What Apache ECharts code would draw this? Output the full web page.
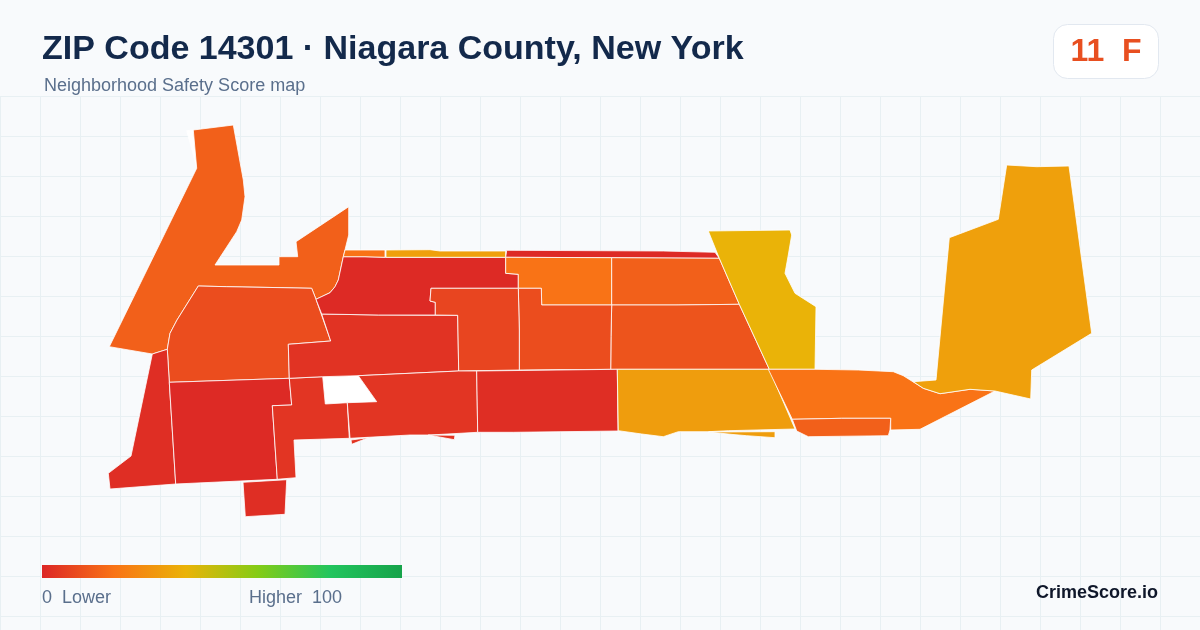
<!DOCTYPE html>
<html lang="en">
<head>
  <meta charset="UTF-8">
  <title>ZIP Code 14301</title>
  <script src="https://cdn.jsdelivr.net/npm/echarts@6/dist/echarts.min.js"></script>
  <style>
    html, body { margin: 0; padding: 0; background: #f8fafc; }
    #main { width: 1200px; height: 630px; }
  </style>
</head>
<body>
<div id="main"></div>
<script>
  // block groups: name, score, outline in map units
  var areaNames = ['NW','Hyde','West','LaSalle','Center','Court','South','North','TopA','TopB','TopC','Mid1','Mid2','Mid3','Mid4','Mid5','Row1','Row2','Row3','Gold','River','Shore','East'];
  var areaScores = [15, 10, 2, 1, 4, 2, 3.5, 1, 20, 34, 1, 20, 15, 12, 10, 8, 4, 2, 33, 40, 20, 15, 34];
  var blankAreas = {
    Hole: [[[322.7,376.7],[358.3,375.7],[376.7,401.7],[347.3,402.7],[325.3,404]]],
    Sliver: [[[186.7,130.7],[193.3,130],[197,168.3]]]
  };
  var areaShapes = [
    [[[193.3,130],[233.3,125],[243.3,180],[245,196.7],[241.7,220],[236.7,231.7],[215,265],[279,265],[279,256.7],[297.7,256.7],[296,241.7],[348.7,206.7],[348.7,235],[343.3,256.7],[338.3,280],[335,286.7],[330,292.7],[316,299.3],[311.7,288.3],[283,287.7],[226.7,286.7],[198.3,286],[177,320],[170,333.3],[167.3,349.3],[152.3,354],[109.3,346.7],[196.7,168.3]]],
    [[[198.3,286],[226.7,286.7],[283,287.7],[311.7,288.3],[316,299.3],[330.7,341],[288.3,344.3],[289.3,378.3],[169.3,382.3],[167.3,349.3],[170,333.3],[177,320]]],
    [[[152.3,354],[167.3,349.3],[169.3,382.3],[175.7,484],[110,489],[108.3,473.3],[131,456]]],
    [[[169.3,382.3],[289.3,378.3],[291.7,405],[272.3,405.7],[277.3,479.3],[175.7,484]]],
    [[[289.3,378.3],[322.7,376.7],[325.3,404],[347.3,402.7],[349.3,438.3],[294,440],[296,477.7],[277.3,479.3],[272.3,405.7],[291.7,405]]],
    [[[243,482.3],[286.7,479.7],[285,514.3],[245.3,516.7]]],
    [[[321.7,314],[378.3,315],[457.7,315.3],[458.7,371],[358.3,375.7],[322.7,376.7],[289.3,378.3],[288.3,344.3],[330.7,341]]],
    [[[343.3,256.7],[365,256.7],[385,257.3],[505.7,257.3],[505.7,273.3],[518.3,274.3],[518.3,288.3],[431,288.3],[430,301],[435.3,302.3],[435.3,315],[378.3,315],[321.7,314],[316,299.3],[330,292.7],[335,286.7],[338.3,280]]],
    [[[345,250],[385,250],[385,257.3],[365,256.7],[343.3,256.7]]],
    [[[386,250],[430,249.7],[440,251],[505.7,251],[505.7,257.3],[386,257.3]]],
    [[[506.7,250.3],[663.3,251],[715,252.3],[719.3,258.3],[611.7,257.7],[505.7,257.3]]],
    [[[505.7,257.3],[611.7,257.7],[611.7,305],[541.7,305],[541.3,288.3],[518.3,288.3],[518.3,274.3],[505.7,273.3]]],
    [[[611.7,257.7],[719.3,258.3],[739.3,304.3],[676,305],[611.7,305]]],
    [[[611.7,305],[676,305],[739.3,304.3],[769.3,369.3],[610.7,369.3],[611,336.7]]],
    [[[518.3,288.3],[541.3,288.3],[541.7,305],[611.7,305],[611,336.7],[610.7,369.3],[519.3,370],[519.3,330]]],
    [[[431,288.3],[518.3,288.3],[519.3,330],[519.3,370],[458.7,371],[457.7,315.3],[435.3,315],[435.3,302.3],[430,301]]],
    [[[358.3,375.7],[458.7,371],[476.7,371],[477.7,432.3],[430,435],[410,435],[350,438.3],[347.3,402.7],[376.7,401.7]],
     [[351,440],[368.3,437.7],[351.7,444.3]],
     [[428.3,435],[455,435.3],[454.3,439.7]]],
    [[[476.7,371],[617.3,369.3],[618,431],[513.3,432.3],[477.7,432.3]]],
    [[[617.3,369.3],[769.3,369.3],[795,429],[728.3,430.7],[708.3,431.7],[678.3,431.7],[663.3,436.7],[641.7,434],[618.3,430.7]],
     [[708.3,432],[775,431.7],[775,437.7],[746.7,435.7],[733,434.5]]],
    [[[708.3,231],[790,230],[791.7,235],[788.3,255],[785,273.3],[795,293.3],[816,306.7],[815,369.3],[769.3,369.3],[739.3,304.3],[719.3,258.3]]],
    [[[768.3,369.3],[815,369.3],[858.3,370],[893.3,371.7],[903.3,375.7],[923.3,388.3],[940,393.7],[970,389.3],[995,391],[920,429.3],[890.7,430],[890.7,418.3],[841.7,418.3],[792.3,419.3]]],
    [[[792.3,419.3],[841.7,418.3],[890.7,418.3],[890,430],[888.3,435.7],[808.3,436.7],[796.7,431]]],
    [[[1006.7,165],[1036.7,166.7],[1069,166],[1091.7,333.3],[1031.7,370],[1030.7,399],[995,391],[970,389.3],[940,393.7],[923.3,388.3],[913.3,381.7],[936,380],[949.3,237.7],[998.3,219.3]]]
  ];
  var scoreStops = ['#dc2626','#f97316','#eab308','#84cc16','#22c55e','#16a34a'];
  var overallScore = 11;
  var overallGrade = 'F';

  var textFont = '"Liberation Sans", Arial, sans-serif';

  function flipRing(ring) {
    return ring.map(function (p) { return [p[0], 630 - p[1]]; });
  }
  function makeFeature(name, rings) {
    return {
      type: 'Feature',
      properties: { name: name },
      geometry: { type: 'MultiPolygon', coordinates: rings.map(function (r) { return [flipRing(r)]; }) }
    };
  }

  var features = areaNames.map(function (n, i) { return makeFeature(n, areaShapes[i]); });
  Object.keys(blankAreas).forEach(function (n) { features.unshift(makeFeature(n, blankAreas[n])); });
  echarts.registerMap('zip14301', { type: 'FeatureCollection', features: features });

  var main = echarts.init(document.querySelector('#main'), null, { renderer: 'canvas' });
  main.setOption({
    animation: false,
    backgroundColor: '#f8fafc',
    title: [
      { text: 'ZIP Code 14301 · Niagara County, New York', left: 42, top: 33, padding: 0,
        textStyle: { fontFamily: textFont, fontSize: 34, fontWeight: 'bold', color: '#13294b' } },
      { text: 'Neighborhood Safety Score map', left: 44, top: 77, padding: 0,
        textStyle: { fontFamily: textFont, fontSize: 18, fontWeight: 'normal', color: '#5a6f8c' } }
    ],
    grid: { left: 0, top: 96, width: 1200, height: 534 },
    xAxis: {
      type: 'value', min: 0, max: 1200, interval: 40,
      axisLine: { show: false }, axisTick: { show: false }, axisLabel: { show: false },
      splitLine: { lineStyle: { color: '#e8f0f3', width: 1 } }
    },
    yAxis: {
      type: 'value', min: 0, max: 534, interval: 40, inverse: true,
      axisLine: { show: false }, axisTick: { show: false }, axisLabel: { show: false },
      splitLine: { lineStyle: { color: '#e8f0f3', width: 1 } }
    },
    visualMap: {
      type: 'continuous', min: 0, max: 100, show: false, seriesIndex: 0,
      inRange: { color: scoreStops }
    },
    series: [{
      type: 'map', map: 'zip14301', silent: true, selectedMode: false,
      left: 0, top: 0, width: 1200, height: 630,
      aspectScale: 1, boundingCoords: [[0, 630], [1200, 0]],
      label: { show: false },
      itemStyle: { areaColor: '#ffffff', borderColor: '#ffffff', borderWidth: 0.8 },
      data: areaNames.map(function (n, i) { return { name: n, value: areaScores[i] }; })
    }],
    graphic: {
      z: 20,
      elements: [
        // legend bar, same stops as the visualMap but with square corners
        { type: 'rect', z: 20, shape: { x: 42, y: 565, width: 360, height: 13 },
          style: { fill: new echarts.graphic.LinearGradient(0, 0, 1, 0, scoreStops.map(function (c, i) {
            return { offset: i / (scoreStops.length - 1), color: c };
          })) } },
        { type: 'rect', z: 20, shape: { x: 1053.5, y: 24.5, width: 105, height: 54, r: 14 },
          style: { fill: '#ffffff', stroke: '#e2e8f0', lineWidth: 1 } },
        { type: 'text', z: 21, x: 1106, y: 52, style: { text: overallScore + '  ' + overallGrade, font: 'bold 32px ' + textFont,
          fill: '#e84f20', textAlign: 'center', textVerticalAlign: 'middle' } },
        { type: 'text', z: 21, x: 42, y: 598, style: { text: '0  Lower', font: '18px ' + textFont,
          fill: '#5a6f8c', textVerticalAlign: 'middle' } },
        { type: 'text', z: 21, x: 249, y: 598, style: { text: 'Higher  100', font: '18px ' + textFont,
          fill: '#5a6f8c', textVerticalAlign: 'middle' } },
        { type: 'text', z: 21, x: 1158, y: 593, style: { text: 'CrimeScore.io', font: 'bold 18px ' + textFont,
          fill: '#0f172a', textAlign: 'right', textVerticalAlign: 'middle' } }
      ]
    }
  });
</script>
</body>
</html>
